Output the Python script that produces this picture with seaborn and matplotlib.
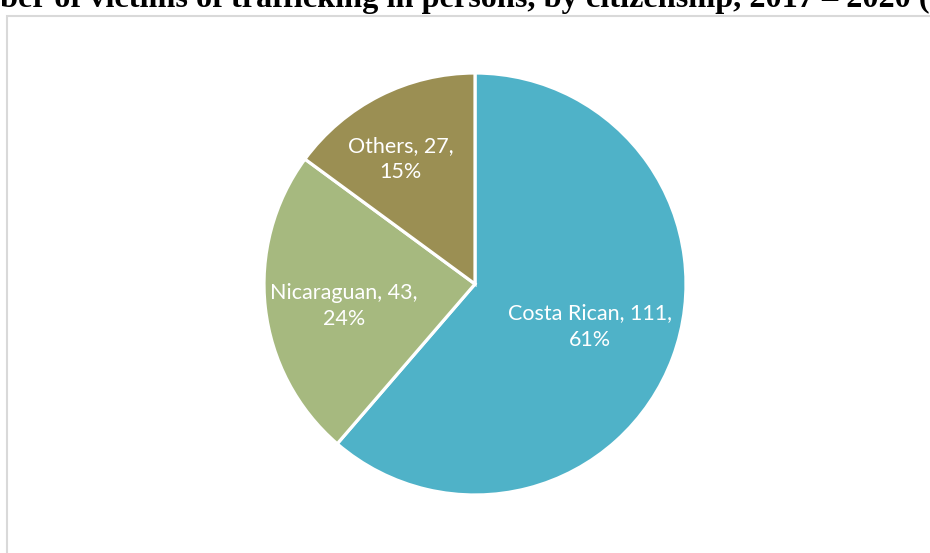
import seaborn as sns
import matplotlib.pyplot as plt
from matplotlib.patches import Rectangle
import numpy as np

# data
citizenship = ['Costa Rican', 'Nicaraguan', 'Others']
victims = [111, 43, 27]
shares = ['61%', '24%', '15%']
title = 'Number of victims of trafficking in persons, by citizenship, 2017 \u2013 2020 (number)'

sns.set_theme(style='white')
plt.rcParams['font.family'] = ['Lato', 'DejaVu Sans']
colors = sns.color_palette(['#4FB2C8', '#A6B97F', '#9B8F53'])
# where each label sits inside its slice: fraction of radius, angle nudge (deg)
label_dist = [0.58, 0.63, 0.69]
label_turn = [0, 3, 4]

W, H = 930, 553
fig = plt.figure(figsize=(W / 100, H / 100), dpi=100)

# chart frame (runs past the right and bottom edge, like the cropped source)
fig.patches.append(Rectangle((7 / W, -0.1), 1.2, 1 - 16 / H + 0.1,
                             transform=fig.transFigure, fill=False,
                             edgecolor='#D9D9D9', linewidth=1.5))

# title, cropped at the top of the image
fs_title = 23.2
fig.canvas.draw()
r = fig.canvas.get_renderer()
probe = fig.text(0, 0, 'Num', family='Liberation Serif', weight='bold', fontsize=fs_title)
off = probe.get_window_extent(r).width
probe.remove()
fig.text(-off / W, 1 - 7.5 / H, title, family='Liberation Serif', weight='bold',
         fontsize=fs_title, ha='left', va='baseline', color='black')

cx, cy, rad = 475, 284, 211
ax = fig.add_axes([(cx - rad) / W, (H - cy - rad) / H, 2 * rad / W, 2 * rad / H])
wedges, _ = ax.pie(victims, colors=colors, startangle=90, counterclock=False,
                   wedgeprops=dict(edgecolor='white', linewidth=2.3))
ax.set_xlim(-1, 1)
ax.set_ylim(-1, 1)
ax.set_aspect('equal')

for w, name, n, pct, d, t in zip(wedges, citizenship, victims, shares,
                                 label_dist, label_turn):
    mid = np.deg2rad((w.theta1 + w.theta2) / 2 + t)
    ax.text(d * np.cos(mid), d * np.sin(mid), f'{name}, {n},\n{pct}',
            ha='center', va='center', color='white', fontsize=15.5,
            linespacing=1.4)

fig.savefig('out.png', dpi=100)
